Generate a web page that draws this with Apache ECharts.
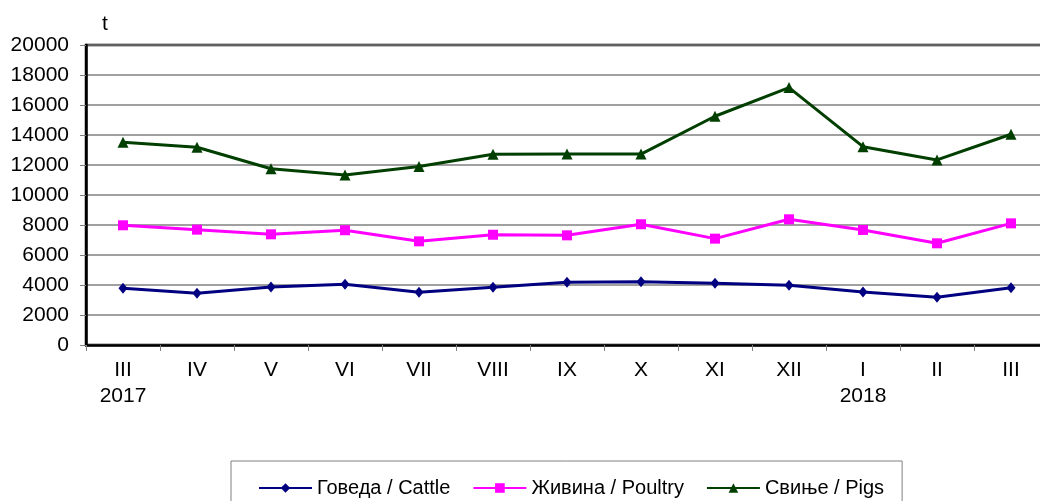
<!DOCTYPE html>
<html lang="sr">
<head>
    <meta charset="UTF-8">
    <title>Клање стоке</title>
    <style>
        *{margin: 0; padding: 0;}
        body,html{width: 100%; height: 100%; background: #fff; overflow: hidden;}
        #chart{width: 1060px; height: 501px;}
    </style>
</head>
<body>
<div id="chart"></div>
<script src="https://cdn.jsdelivr.net/npm/echarts@6/dist/echarts.min.js"></script>
<script>
    // months, Mar 2017 - Mar 2018
    var months = ['III\n2017', 'IV', 'V', 'VI', 'VII', 'VIII', 'IX', 'X', 'XI', 'XII', 'I\n2018', 'II', 'III'];
    var cattle = [3780, 3450, 3870, 4050, 3510, 3850, 4180, 4220, 4110, 3980, 3530, 3180, 3820];
    var poultry = [7980, 7690, 7380, 7650, 6910, 7350, 7310, 8050, 7090, 8380, 7670, 6780, 8110];
    var pigs = [13520, 13180, 11750, 11340, 11900, 12720, 12730, 12730, 15250, 17160, 13220, 12340, 14050];
    var names = ['Говеда / Cattle', 'Живина / Poultry', 'Свиње / Pigs'];

    var font = 'Liberation Sans, Arial, sans-serif';

    function mkLine(name, data, color, symbol, size) {
        return {
            name: name,
            type: 'line',
            data: data,
            symbol: symbol,
            symbolSize: size,
            showAllSymbol: true,
            lineStyle: {color: color, width: 3},
            itemStyle: {color: color},
            emphasis: {disabled: true}
        };
    }

    var option = {
        animation: false,
        textStyle: {fontFamily: font},
        title: {
            text: 't',
            left: 97,
            top: 9,
            textStyle: {fontFamily: font, fontSize: 21, fontWeight: 'normal', color: '#000'}
        },
        grid: {
            left: 86,
            top: 45,
            width: 962,
            height: 300,
            show: true,
            borderColor: '#000',
            borderWidth: 2.5,
            containLabel: false
        },
        legend: {
            left: 231,
            top: 461,
            data: names,
            itemWidth: 53,
            itemHeight: 12,
            itemGap: 22,
            padding: [17, 18, 30, 27],
            borderColor: '#808080',
            borderWidth: 1,
            textStyle: {fontFamily: font, fontSize: 20, color: '#000'}
        },
        xAxis: {
            type: 'category',
            data: months,
            boundaryGap: true,
            axisLine: {lineStyle: {color: '#000', width: 2.5}},
            axisTick: {show: true, length: 6, lineStyle: {color: '#808080', width: 1}},
            axisLabel: {
                fontFamily: font, fontSize: 21, color: '#000',
                margin: 12, lineHeight: 26, interval: 0
            },
            splitLine: {show: false}
        },
        yAxis: {
            type: 'value',
            min: 0,
            max: 20000,
            interval: 2000,
            axisLine: {show: true, lineStyle: {color: '#000', width: 2.5}},
            axisTick: {show: true, length: 6, lineStyle: {color: '#808080', width: 1}},
            axisLabel: {
                fontFamily: font, fontSize: 21, color: '#000', margin: 17,
                formatter: function (v) { return String(v); }
            },
            splitLine: {lineStyle: {color: '#808080', width: 1.5}}
        },
        series: [
            mkLine(names[0], cattle, '#000080', 'diamond', [9, 11]),
            mkLine(names[1], poultry, '#ff00ff', 'rect', 10),
            mkLine(names[2], pigs, '#003f00', 'triangle', 11)
        ]
    };

    var myChart = echarts.init(document.getElementById('chart'));
    myChart.setOption(option);
</script>
</body>
</html>
